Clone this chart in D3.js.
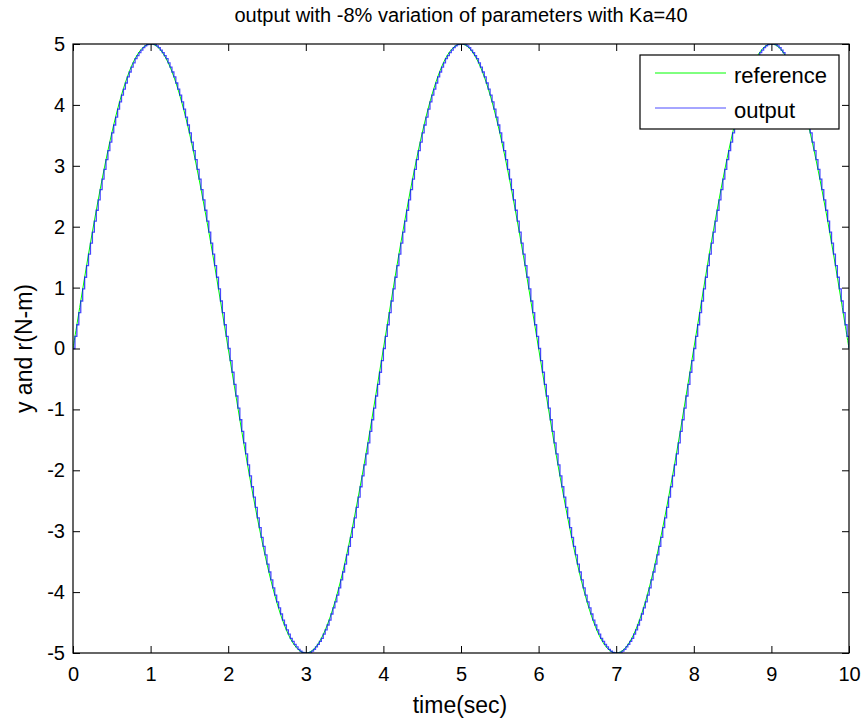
<!DOCTYPE html>
<html>
<head>
<meta charset="utf-8">
<script src="https://cdn.jsdelivr.net/npm/d3@7"></script>
<style>
  html, body { margin: 0; padding: 0; background: #ffffff; }
  svg { display: block; font-family: "Liberation Sans", Arial, sans-serif; }
</style>
</head>
<body>
<svg id="chart" width="868" height="723"></svg>
<script>
// ---------------- data ----------------
const titleText = "output with -8% variation of parameters with Ka=40";
const xLabelText = "time(sec)";
const yLabelText = "y and r(N-m)";
const seriesNames = ["reference", "output"];
const xTicks = [0, 1, 2, 3, 4, 5, 6, 7, 8, 9, 10];
const yTicks = [-5, -4, -3, -2, -1, 0, 1, 2, 3, 4, 5];
const xDomain = [0, 10];
const yDomain = [-5, 5];

// reference signal, sampled every 0.1 s
const referenceStep = 0.1;
const referenceValues = [
  0,
  0.78,1.55,2.27,2.94,3.54,4.05,4.46,4.76,4.94,5,4.94,4.76,4.46,4.05,3.54,2.94,2.27,1.55,0.78,0,
  -0.78,-1.55,-2.27,-2.94,-3.54,-4.05,-4.46,-4.76,-4.94,-5,-4.94,-4.76,-4.46,-4.05,-3.54,-2.94,-2.27,-1.55,-0.78,0,
  0.78,1.55,2.27,2.94,3.54,4.05,4.46,4.76,4.94,5,4.94,4.76,4.46,4.05,3.54,2.94,2.27,1.55,0.78,0,
  -0.78,-1.55,-2.27,-2.94,-3.54,-4.05,-4.46,-4.76,-4.94,-5,-4.94,-4.76,-4.46,-4.05,-3.54,-2.94,-2.27,-1.55,-0.78,0,
  0.78,1.55,2.27,2.94,3.54,4.05,4.46,4.76,4.94,5,4.94,4.76,4.46,4.05,3.54,2.94,2.27,1.55,0.78,0
];

// output signal (sample-and-hold), sampled every 0.025 s
const outputStep = 0.025;
const outputValues = [
  0,
  0.2,0.39,0.59,0.78,0.98,1.17,1.36,1.55,1.73,1.91,2.09,2.27,2.44,2.61,2.78,2.94,3.1,3.25,3.39,3.54,
  3.67,3.8,3.93,4.05,4.16,4.26,4.36,4.46,4.54,4.62,4.69,4.76,4.81,4.86,4.9,4.94,4.97,4.99,5,5,
  5,4.99,4.97,4.94,4.9,4.86,4.81,4.76,4.69,4.62,4.54,4.46,4.36,4.26,4.16,4.05,3.93,3.8,3.67,3.54,
  3.39,3.25,3.1,2.94,2.78,2.61,2.44,2.27,2.09,1.91,1.73,1.55,1.36,1.17,0.98,0.78,0.59,0.39,0.2,0,
  -0.2,-0.39,-0.59,-0.78,-0.98,-1.17,-1.36,-1.55,-1.73,-1.91,-2.09,-2.27,-2.44,-2.61,-2.78,-2.94,-3.1,-3.25,-3.39,-3.54,
  -3.67,-3.8,-3.93,-4.05,-4.16,-4.26,-4.36,-4.46,-4.54,-4.62,-4.69,-4.76,-4.81,-4.86,-4.9,-4.94,-4.97,-4.99,-5,-5,
  -5,-4.99,-4.97,-4.94,-4.9,-4.86,-4.81,-4.76,-4.69,-4.62,-4.54,-4.46,-4.36,-4.26,-4.16,-4.05,-3.93,-3.8,-3.67,-3.54,
  -3.39,-3.25,-3.1,-2.94,-2.78,-2.61,-2.44,-2.27,-2.09,-1.91,-1.73,-1.55,-1.36,-1.17,-0.98,-0.78,-0.59,-0.39,-0.2,0,
  0.2,0.39,0.59,0.78,0.98,1.17,1.36,1.55,1.73,1.91,2.09,2.27,2.44,2.61,2.78,2.94,3.1,3.25,3.39,3.54,
  3.67,3.8,3.93,4.05,4.16,4.26,4.36,4.46,4.54,4.62,4.69,4.76,4.81,4.86,4.9,4.94,4.97,4.99,5,5,
  5,4.99,4.97,4.94,4.9,4.86,4.81,4.76,4.69,4.62,4.54,4.46,4.36,4.26,4.16,4.05,3.93,3.8,3.67,3.54,
  3.39,3.25,3.1,2.94,2.78,2.61,2.44,2.27,2.09,1.91,1.73,1.55,1.36,1.17,0.98,0.78,0.59,0.39,0.2,0,
  -0.2,-0.39,-0.59,-0.78,-0.98,-1.17,-1.36,-1.55,-1.73,-1.91,-2.09,-2.27,-2.44,-2.61,-2.78,-2.94,-3.1,-3.25,-3.39,-3.54,
  -3.67,-3.8,-3.93,-4.05,-4.16,-4.26,-4.36,-4.46,-4.54,-4.62,-4.69,-4.76,-4.81,-4.86,-4.9,-4.94,-4.97,-4.99,-5,-5,
  -5,-4.99,-4.97,-4.94,-4.9,-4.86,-4.81,-4.76,-4.69,-4.62,-4.54,-4.46,-4.36,-4.26,-4.16,-4.05,-3.93,-3.8,-3.67,-3.54,
  -3.39,-3.25,-3.1,-2.94,-2.78,-2.61,-2.44,-2.27,-2.09,-1.91,-1.73,-1.55,-1.36,-1.17,-0.98,-0.78,-0.59,-0.39,-0.2,0,
  0.2,0.39,0.59,0.78,0.98,1.17,1.36,1.55,1.73,1.91,2.09,2.27,2.44,2.61,2.78,2.94,3.1,3.25,3.39,3.54,
  3.67,3.8,3.93,4.05,4.16,4.26,4.36,4.46,4.54,4.62,4.69,4.76,4.81,4.86,4.9,4.94,4.97,4.99,5,5,
  5,4.99,4.97,4.94,4.9,4.86,4.81,4.76,4.69,4.62,4.54,4.46,4.36,4.26,4.16,4.05,3.93,3.8,3.67,3.54,
  3.39,3.25,3.1,2.94,2.78,2.61,2.44,2.27,2.09,1.91,1.73,1.55,1.36,1.17,0.98,0.78,0.59,0.39,0.2,0
];

// ---------------- layout ----------------
const svg = d3.select("#chart");
const plot = { left: 73, right: 849, top: 44, bottom: 653 };
const colors = { reference: "#00ff00", output: "#0000ff" };
const tickLen = 7;
const fontSize = 20;
const fmt = d => String(d); // plain hyphen-minus, as in the original

const x = d3.scaleLinear().domain(xDomain).range([plot.left, plot.right]);
const y = d3.scaleLinear().domain(yDomain).range([plot.bottom, plot.top]);

const refData = referenceValues.map((v, i) => ({ t: i * referenceStep, v }));
const outData = outputValues.map((v, i) => ({ t: i * outputStep, v }));

// clip
svg.append("defs").append("clipPath").attr("id", "clip")
  .append("rect")
  .attr("x", plot.left).attr("y", plot.top)
  .attr("width", plot.right - plot.left).attr("height", plot.bottom - plot.top);

// lines
const lines = svg.append("g").attr("clip-path", "url(#clip)");
lines.append("path")
  .datum(refData)
  .attr("fill", "none")
  .attr("stroke", colors.reference)
  .attr("stroke-width", 1)
  .attr("d", d3.line().x(d => x(d.t)).y(d => y(d.v)).curve(d3.curveCardinal));
lines.append("path")
  .datum(outData)
  .attr("fill", "none")
  .attr("stroke", colors.output)
  .attr("stroke-width", 1.3)
  .attr("stroke-opacity", 0.72)
  .attr("d", d3.line().x(d => x(d.t)).y(d => y(d.v)).curve(d3.curveStepAfter));

// axes
function styleAxis(g, showLabels) {
  g.select(".domain").remove();
  g.selectAll(".tick line").attr("stroke", "#000").attr("stroke-width", 1);
  g.selectAll(".tick text")
    .attr("fill", "#000")
    .style("font-size", fontSize + "px")
    .style("font-family", "'Liberation Sans', Arial, sans-serif");
  if (!showLabels) g.selectAll(".tick text").remove();
}

svg.append("g")
  .attr("transform", `translate(0,${plot.bottom})`)
  .call(d3.axisBottom(x).tickValues(xTicks).tickSize(-tickLen).tickPadding(14).tickFormat(fmt))
  .call(g => styleAxis(g, true));
svg.append("g")
  .attr("transform", `translate(0,${plot.top})`)
  .call(d3.axisTop(x).tickValues(xTicks).tickSize(-tickLen))
  .call(g => styleAxis(g, false));
svg.append("g")
  .attr("transform", `translate(${plot.left},0)`)
  .call(d3.axisLeft(y).tickValues(yTicks).tickSize(-tickLen).tickPadding(8).tickFormat(fmt))
  .call(g => styleAxis(g, true));
svg.append("g")
  .attr("transform", `translate(${plot.right},0)`)
  .call(d3.axisRight(y).tickValues(yTicks).tickSize(-tickLen))
  .call(g => styleAxis(g, false));

// box
svg.append("rect")
  .attr("x", plot.left).attr("y", plot.top)
  .attr("width", plot.right - plot.left).attr("height", plot.bottom - plot.top)
  .attr("fill", "none").attr("stroke", "#000").attr("stroke-width", 1.2);

// title and labels
svg.append("text")
  .attr("x", (plot.left + plot.right) / 2).attr("y", 22)
  .attr("text-anchor", "middle")
  .style("font-size", "20px")
  .text(titleText);
svg.append("text")
  .attr("x", (plot.left + plot.right) / 2 - 1).attr("y", 713)
  .attr("text-anchor", "middle")
  .style("font-size", "23px")
  .text(xLabelText);
svg.append("text")
  .attr("transform", `translate(32,${(plot.top + plot.bottom) / 2}) rotate(-90)`)
  .attr("text-anchor", "middle")
  .style("font-size", "23px")
  .text(yLabelText);

// legend
const legend = svg.append("g");
legend.append("rect")
  .attr("x", 640).attr("y", 55).attr("width", 199).attr("height", 74)
  .attr("fill", "#ffffff").attr("stroke", "#000").attr("stroke-width", 1.2);
seriesNames.forEach((name, i) => {
  const ly = 73 + i * 35;
  legend.append("line")
    .attr("x1", 655).attr("x2", 726).attr("y1", ly).attr("y2", ly)
    .attr("stroke", colors[name]).attr("stroke-width", 1)
    .attr("stroke-opacity", name === "output" ? 0.7 : 1);
  legend.append("text")
    .attr("x", 734).attr("y", ly + 10)
    .style("font-size", "22px")
    .text(name);
});
</script>
</body>
</html>
